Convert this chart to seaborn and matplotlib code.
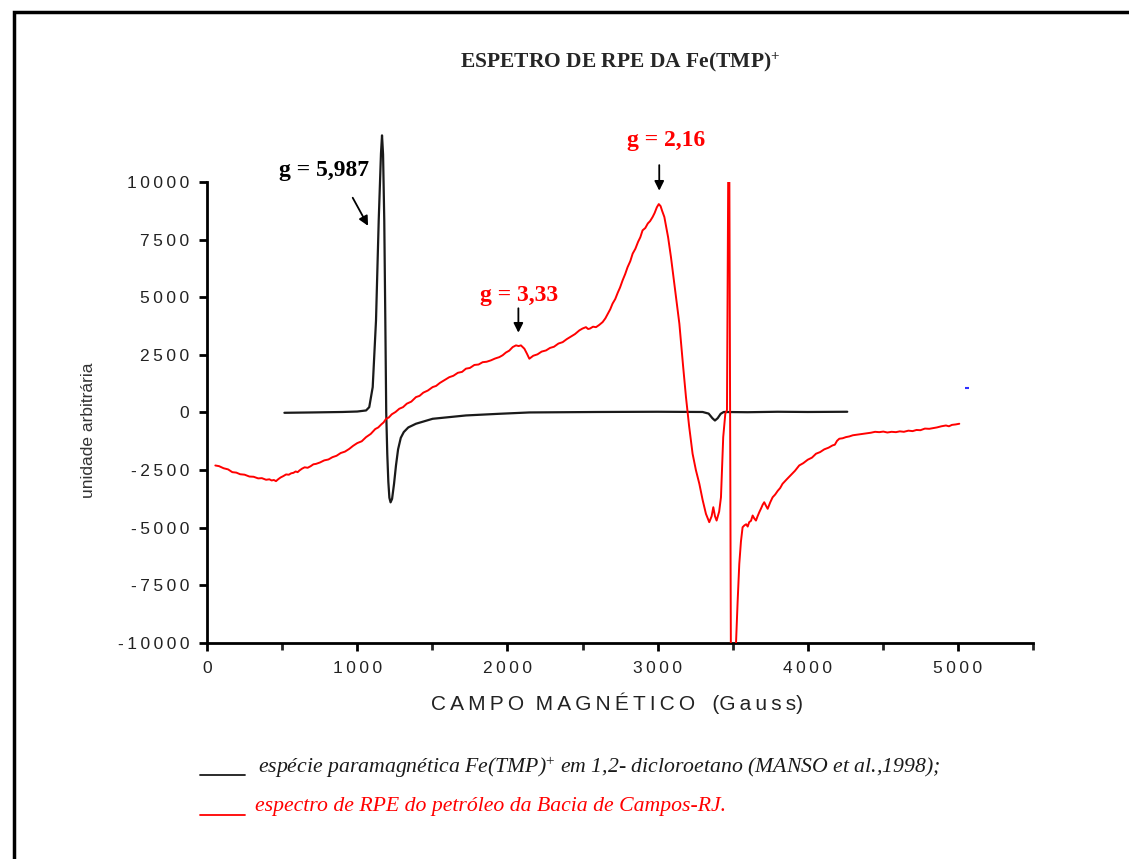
import numpy as np
import pandas as pd
import matplotlib
matplotlib.use("Agg")
import matplotlib.pyplot as plt
import seaborn as sns
from matplotlib.ticker import MultipleLocator, FuncFormatter
from matplotlib.lines import Line2D
from matplotlib.patches import Rectangle

# ---------------- data ----------------
black_x = [515, 700, 900, 1000, 1059, 1080, 1103, 1125, 1143, 1158, 1165, 1172, 1180,
           1187, 1193, 1200, 1207, 1214, 1222, 1232, 1245, 1258, 1272, 1290, 1310, 1340,
           1391, 1502, 1724, 1946, 2146, 2600, 3000, 3300, 3340, 3365, 3382, 3400, 3420,
           3440, 3600, 3800, 4000, 4263]
black_y = [-15, 0, 20, 40, 87, 230, 1100, 3990, 8330, 11230, 12020, 11200, 8330,
           3990, 0, -1800, -3000, -3700, -3900, -3750, -3100, -2300, -1600, -1100, -850, -650,
           -490, -275, -130, -58, 0, 20, 30, 20, -50, -250, -350, -250, -60,
           20, 10, 30, 20, 30]

red_x = [55, 80, 110, 140, 168, 195, 220, 250, 282, 310, 340, 365, 393, 415, 430, 445,
         459, 475, 490, 508, 526, 545, 560, 575, 590, 603, 615, 632, 650, 670, 690, 708,
         726, 752, 780, 808, 835, 862, 890, 918, 947, 972, 1000, 1030, 1059, 1090, 1120,
         1140, 1160, 1176, 1192, 1210, 1230, 1255, 1280, 1305, 1330, 1360, 1391, 1415,
         1440, 1470, 1502, 1525, 1550, 1580, 1613, 1640, 1670, 1698, 1724, 1750, 1780,
         1808, 1835, 1862, 1890, 1918, 1946, 1968, 1990, 2012, 2035, 2057, 2075, 2090,
         2113, 2130, 2146, 2172, 2200, 2228, 2257, 2284, 2310, 2340, 2368, 2395, 2420,
         2450, 2479, 2500, 2523, 2537, 2550, 2570, 2590, 2612, 2634, 2652, 2670, 2685,
         2700, 2718, 2735, 2750, 2767, 2784, 2800, 2818, 2834, 2852, 2870, 2885, 2900,
         2918, 2935, 2950, 2967, 2980, 2995, 3008, 3020, 3030, 3045, 3070, 3089, 3115,
         3145, 3170, 3189, 3210, 3233, 3255, 3278, 3300, 3322, 3344, 3360, 3371, 3382,
         3393, 3410, 3422, 3437, 3451, 3462, 3470, 3478, 3488, 3500, 3522, 3533, 3544, 3555,
         3566, 3578, 3590, 3600, 3610, 3622, 3633, 3644, 3655, 3666, 3677, 3690, 3700,
         3710, 3722, 3733, 3750, 3766, 3783, 3800, 3816, 3832, 3860, 3890, 3915, 3943,
         3970, 4000, 4028, 4055, 4082, 4110, 4138, 4165, 4180, 4195, 4210, 4232, 4254,
         4277, 4300, 4332, 4365, 4392, 4420, 4448, 4476, 4503, 4530, 4558, 4587, 4613,
         4640, 4670, 4698, 4724, 4750, 4780, 4809, 4835, 4860, 4890, 4920, 4940, 4960,
         4985, 5009]
red_y = [-2300, -2330, -2420, -2470, -2590, -2610, -2680, -2700, -2780, -2790, -2860,
         -2850, -2920, -2900, -2950, -2930, -2980, -2890, -2820, -2760, -2690, -2700,
         -2640, -2620, -2560, -2590, -2520, -2440, -2380, -2400, -2330, -2250, -2230,
         -2170, -2080, -2040, -1940, -1880, -1760, -1700, -1580, -1450, -1330, -1250,
         -1070, -930, -720, -650, -520, -430, -275, -220, -80, 20, 160, 230, 380, 470,
         665, 720, 860, 950, 1100, 1150, 1280, 1400, 1530, 1590, 1720, 1760, 1900, 1930,
         2060, 2080, 2180, 2200, 2260, 2340, 2400, 2480, 2600, 2680, 2835, 2910, 2880,
         2910, 2765, 2550, 2330, 2460, 2520, 2640, 2690, 2800, 2850, 2990, 3050, 3180,
         3280, 3400, 3560, 3640, 3700, 3620, 3640, 3720, 3700, 3800, 3920, 4080, 4300,
         4480, 4720, 4920, 5200, 5420, 5730, 6000, 6300, 6560, 6890, 7100, 7400, 7600,
         7900, 8000, 8200, 8300, 8480, 8650, 8900, 9040, 8950, 8750, 8480, 7600, 6740,
         5400, 3850, 2000, 665, -600, -1790, -2500, -3095, -3800, -4400, -4760, -4500,
         -4110, -4500, -4690, -4300, -3680, -1070, -50, 100, 10000, 10000, -10400, -10400,
         -10040, -8200, -6570, -5600, -4980, -4900, -4850, -4950, -4760, -4700, -4470,
         -4600, -4690, -4500, -4330, -4150, -4000, -3895, -4050, -4180, -3900, -3680,
         -3560, -3400, -3280, -3095, -2900, -2700, -2530, -2300, -2200, -2050, -1960,
         -1790, -1720, -1600, -1530, -1430, -1400, -1230, -1140, -1120, -1070, -1040,
         -990, -960, -925, -900, -880, -840, -855, -830, -870, -840, -855, -820, -840,
         -790, -810, -760, -770, -700, -710, -680, -650, -600, -565, -600, -540, -520,
         -490]

stray_x = [5062]
stray_y = [1040]

x_ticks = [0, 1000, 2000, 3000, 4000, 5000]
y_ticks = [-10000, -7500, -5000, -2500, 0, 2500, 5000, 7500, 10000]

# ---------------- style ----------------
sns.set_style("white")
plt.rcParams["font.family"] = ["Liberation Sans", "DejaVu Sans"]
plt.rcParams["mathtext.fontset"] = "custom"
plt.rcParams["mathtext.rm"] = "Liberation Serif"
plt.rcParams["mathtext.it"] = "Liberation Serif:italic"
plt.rcParams["mathtext.bf"] = "Liberation Serif:bold"

fig = plt.figure(figsize=(11.29, 8.59), dpi=100)
ax = fig.add_axes([0.1834, 0.2515, 0.7316, 0.5367])

red_df = pd.DataFrame({"x": red_x, "y": red_y})
black_df = pd.DataFrame({"x": black_x, "y": black_y})

sns.lineplot(data=red_df, x="x", y="y", ax=ax, color="#ff0000", lw=1.4,
             sort=False, estimator=None, zorder=3)
sns.lineplot(data=black_df, x="x", y="y", ax=ax, color="#1a1a1a", lw=1.6,
             sort=False, estimator=None, clip_on=False, zorder=2)
ax.plot(stray_x, stray_y, "_", color="#3030ff", ms=2.5, mew=1.5, clip_on=False)

ax.set_xlim(0, 5500)
ax.set_ylim(-10000, 10000)
ax.set_xticks(x_ticks)
ax.set_yticks(y_ticks)
ax.xaxis.set_minor_locator(MultipleLocator(500))
ax.set_xlabel("")
ax.set_ylabel("")

def spaced(v, pos):
    s = "%d" % v
    return "\u2009".join(s)

ax.xaxis.set_major_formatter(FuncFormatter(spaced))
ax.yaxis.set_major_formatter(FuncFormatter(spaced))

for s in ["top", "right"]:
    ax.spines[s].set_visible(False)
for s in ["left", "bottom"]:
    ax.spines[s].set_linewidth(2.0)
    ax.spines[s].set_color("black")

ax.tick_params(axis="both", which="major", direction="out", length=6, width=2.0,
               labelsize=12.5, colors="black", pad=7, bottom=True, left=True)
ax.tick_params(axis="x", which="minor", direction="out", length=5, width=2.0, bottom=True)
for lab in ax.get_xticklabels() + ax.get_yticklabels():
    lab.set_color("#222222")

# annotations
ax.text(781, 10500, "g = 5,987", ha="center", va="center", fontsize=17,
        fontweight="bold", family="Liberation Serif", color="black", clip_on=False)
ax.annotate("", xy=(1081, 7990), xytext=(961, 9420), annotation_clip=False,
            arrowprops=dict(arrowstyle="-|>", color="black", lw=1.3, mutation_scale=14))

ax.text(3058, 11800, "g = 2,16", ha="center", va="center", fontsize=17,
        fontweight="bold", family="Liberation Serif", color="#ff0000", clip_on=False)
ax.annotate("", xy=(3011, 9500), xytext=(3011, 10850), annotation_clip=False,
            arrowprops=dict(arrowstyle="-|>", color="black", lw=1.3, mutation_scale=14))

ax.text(2079, 5080, "g = 3,33", ha="center", va="center", fontsize=17,
        fontweight="bold", family="Liberation Serif", color="#ff0000")
ax.annotate("", xy=(2073, 3340), xytext=(2073, 4640),
            arrowprops=dict(arrowstyle="-|>", color="black", lw=1.3, mutation_scale=14))

# title and axis labels
fig.text(0.549, 0.928, r"ESPETRO DE RPE DA Fe(TMP)$^{\mathbf{+}}$", ha="center",
         va="center", fontsize=15.5, fontweight="bold", family="Liberation Serif")
fig.text(0.5465, 0.1816, "C\u2009A\u2009M\u2009P\u2009O  M\u2009A\u2009G\u2009N\u2009É\u2009T\u2009I\u2009C\u2009O   (G\u2009a\u2009u\u2009s\u2009s)",
         ha="center", va="center", fontsize=15, color="#222222")
fig.text(0.078, 0.4994, "unidade arbitrária", ha="center", va="center",
         rotation=90, fontsize=12.5, color="#333333")

# legend below
fig.add_artist(Line2D([200 / 1129, 245 / 1129], [1 - 775 / 859] * 2, color="#1a1a1a", lw=1.3))
fig.text(258 / 1129, 1 - 773 / 859,
         r"espécie paramagnética Fe(TMP)$^{+}$ em 1,2- dicloroetano (MANSO et al.,1998);",
         ha="left", va="baseline", fontsize=15.7, style="italic",
         family="Liberation Serif", color="#1a1a1a")
fig.add_artist(Line2D([200 / 1129, 245 / 1129], [1 - 815 / 859] * 2, color="#ff0000", lw=1.3))
fig.text(255 / 1129, 1 - 811 / 859,
         "espectro de RPE do petróleo da Bacia de Campos-RJ.",
         ha="left", va="baseline", fontsize=15.7, style="italic",
         family="Liberation Serif", color="#ff0000")

# outer frame
fig.add_artist(Rectangle((14 / 1129, -0.05), 1.2, 1 - 12 / 859 + 0.05, fill=False,
                         lw=2.5, edgecolor="black", transform=fig.transFigure))

fig.savefig("out.png", dpi=100)
